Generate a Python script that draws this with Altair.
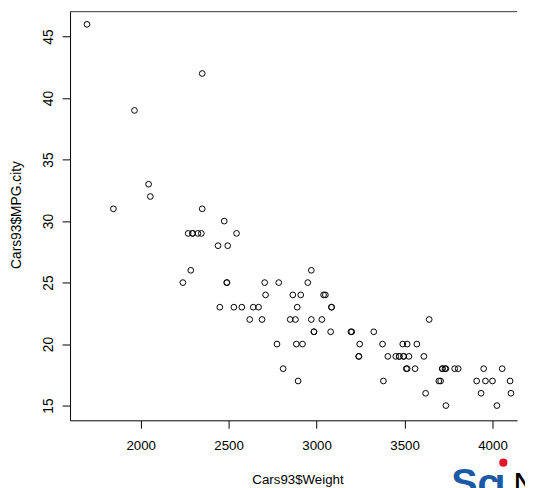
import altair as alt
import pandas as pd

# Cars93 data (MASS): Weight and MPG.city
weight = [2705, 3560, 3375, 3405, 3640, 2880, 3470, 4105, 3495, 3620,
          3935, 2490, 2785, 3240, 3195, 3715, 4025, 3910, 3380, 3515,
          3085, 3570, 2270, 2670, 2970, 3705, 3080, 3805, 2295, 3490,
          1845, 2530, 2690, 2850, 2710, 3735, 3325, 3950, 1695, 2475,
          2865, 2350, 3040, 2345, 2620, 2285, 2885, 4000, 3510, 3515,
          3695, 4055, 2325, 2440, 2970, 3735, 2895, 2920, 3525, 2450,
          3610, 2295, 3730, 2545, 3050, 4100, 3200, 2910, 2890, 3715,
          3470, 2640, 2350, 2575, 3240, 3450, 3495, 2775, 2495, 2045,
          2490, 3085, 1965, 2055, 2950, 3030, 3785, 2240, 3960, 2985,
          2810, 2985, 3245]
mpg_city = [25, 18, 20, 19, 22, 22, 19, 16, 19, 16,
            16, 25, 25, 19, 21, 18, 15, 17, 17, 20,
            23, 20, 29, 23, 22, 17, 21, 18, 29, 20,
            31, 23, 22, 22, 24, 15, 21, 18, 46, 30,
            24, 42, 24, 29, 22, 26, 20, 17, 18, 18,
            17, 18, 29, 28, 26, 18, 17, 20, 19, 23,
            19, 29, 18, 29, 24, 17, 21, 24, 23, 18,
            19, 23, 31, 23, 19, 19, 19, 20, 28, 33,
            25, 23, 39, 32, 25, 22, 18, 25, 17, 21,
            18, 21, 20]

x_ticks = [2000, 2500, 3000, 3500, 4000]
y_ticks = [15, 20, 25, 30, 35, 40, 45]

df = pd.DataFrame({"Weight": weight, "MPG_city": mpg_city})
one = pd.DataFrame({"k": [0]})

W, H = 454, 415
FONT = "Liberation Sans"

points = alt.Chart(df).mark_point(
    shape="circle", filled=False, color="black", strokeWidth=1, size=34, opacity=1
).encode(
    x=alt.X("Weight:Q",
            scale=alt.Scale(domain=[1598.6, 4140], nice=False, zero=False),
            axis=alt.Axis(values=x_ticks, format="d", grid=False, tickSize=8,
                          labelPadding=21.5,
                          labelBaseline="alphabetic", labelAlign="center",
                          labelFont=FONT, labelFontSize=13.5, labelColor="black",
                          domainColor="black", tickColor="black", domainWidth=1,
                          labelFlush=False, labelOverlap=False,
                          title="Cars93$Weight", titleFont=FONT, titleFontSize=13.5,
                          titleFontWeight="normal", titleColor="black",
                          titleX=231, titleY=64, titleAlign="center",
                          titleBaseline="alphabetic")),
    y=alt.Y("MPG_city:Q",
            scale=alt.Scale(domain=[13.8, 47.03], nice=False, zero=False),
            axis=alt.Axis(values=y_ticks, format="d", grid=False, tickSize=8,
                          labelPadding=9.7,
                          labelAngle=270, labelAlign="center", labelBaseline="alphabetic",
                          labelFont=FONT, labelFontSize=14, labelColor="black",
                          domainColor="black", tickColor="black", domainWidth=1,
                          labelFlush=False, labelOverlap=False,
                          title="Cars93$MPG.city", titleFont=FONT, titleFontSize=14,
                          titleFontWeight="normal", titleColor="black",
                          titleAngle=270, titleX=-50, titleY=206, titleAlign="center",
                          titleBaseline="alphabetic")),
)

top_line = alt.Chart(one).mark_rule(color="#333333", strokeWidth=1).encode(
    x=alt.value(0), x2=alt.value(W), y=alt.value(0)
)

logo_sc = alt.Chart(one).mark_text(
    text="Sc", font=FONT, fontSize=40, fontWeight="bold", color="#1b5aa6",
    align="left", baseline="alphabetic"
).encode(x=alt.value(387), y=alt.value(492))

logo_i = alt.Chart(one).mark_text(
    text="ı", font=FONT, fontSize=40, fontWeight="bold", color="#1b5aa6",
    align="left", baseline="alphabetic"
).encode(x=alt.value(431), y=alt.value(492))

logo_dot = alt.Chart(one).mark_point(
    shape="circle", filled=True, color="#e3162b", size=70, opacity=1
).encode(x=alt.value(440), y=alt.value(458))

logo_n = alt.Chart(one).mark_text(
    text="N", font=FONT, fontSize=34, color="black",
    align="left", baseline="alphabetic"
).encode(x=alt.value(450), y=alt.value(492))

chart = alt.layer(points, top_line, logo_sc, logo_i, logo_dot, logo_n).properties(
    width=W, height=H,
    autosize=alt.AutoSizeParams(type="none"),
    padding={"left": 63, "top": 0, "right": 8, "bottom": 65},
).configure(
    background="white",
    view=alt.ViewConfig(stroke="transparent", strokeWidth=0),
)

chart.save("out.html", embed_options={"renderer": "svg", "actions": False})
